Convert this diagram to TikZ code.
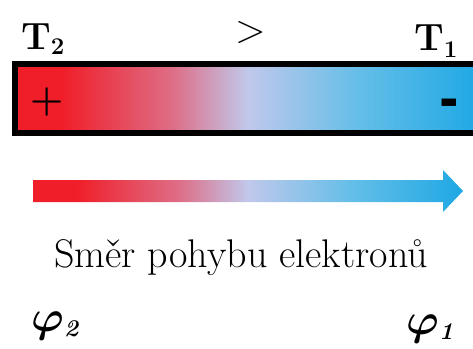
\documentclass[tikz,border=0pt]{standalone}
\usepackage{amsmath,bm}
\definecolor{cred}{RGB}{240,30,40}
\definecolor{cpink}{RGB}{222,110,135}
\definecolor{cmid}{RGB}{192,200,235}
\definecolor{cblue1}{RGB}{100,190,232}
\definecolor{cblue}{RGB}{30,168,228}
\pgfdeclarehorizontalshading{barshade}{100bp}{color(0bp)=(cred); color(25bp)=(cred); color(30bp)=(cred); color(42bp)=(cpink); color(50bp)=(cmid); color(62bp)=(cblue1); color(75bp)=(cblue); color(100bp)=(cblue)}
\tikzset{
  big/.style={inner sep=0pt, font=\fontsize{40}{40}\selectfont},
  lbl/.style={big, anchor=base west},
  bigbf/.style={lbl, font=\fontsize{38}{38}\selectfont\bfseries},
}
\newcommand{\subdig}[2]{\raisebox{#1}{\fontsize{24}{24}\selectfont #2}}
\newcommand{\bigphi}{\scalebox{2.12}{\fontsize{20.74}{20.74}\selectfont$\bm{\varphi}$}}
\begin{document}
\begin{tikzpicture}[x=1pt,y=-1pt]
\useasboundingbox (0,0) rectangle (473,348);
% bar
\shade[shading=barshade] (15,64) rectangle (480,133);
\draw[line width=6pt] (15,64) rectangle (480,133);
% arrow
\shade[shading=barshade] (33,180) -- (443,180) -- (443,170) -- (463,191) -- (443,212) -- (443,202) -- (33,202) -- cycle;
% labels
\node[bigbf] (t2) at (21,49) {T\subdig{-5pt}{2}};
\node[lbl] (gt) at (235,42) {>};
\node[bigbf] (t1) at (414,50) {T\subdig{-7pt}{1}};
\node[big, font=\fontsize{38}{38}\selectfont\bfseries] (plus) at (47,102) {+};
\node[big, anchor=base west, font=\fontsize{40}{40}\selectfont\bfseries] (minus) at (441,120) {\smash{\scalebox{1.2}[2]{-}}};
\node[big, anchor=base] (dir) at (241,267) {Směr pohybu elektronů};
\node[lbl] (phi2) at (31,331) {\bigphi\subdig{-5pt}{\bfseries\itshape 2}};
\node[lbl] (phi1) at (406,334) {\bigphi\subdig{-5pt}{\bfseries\itshape 1}};
\end{tikzpicture}
\end{document}
